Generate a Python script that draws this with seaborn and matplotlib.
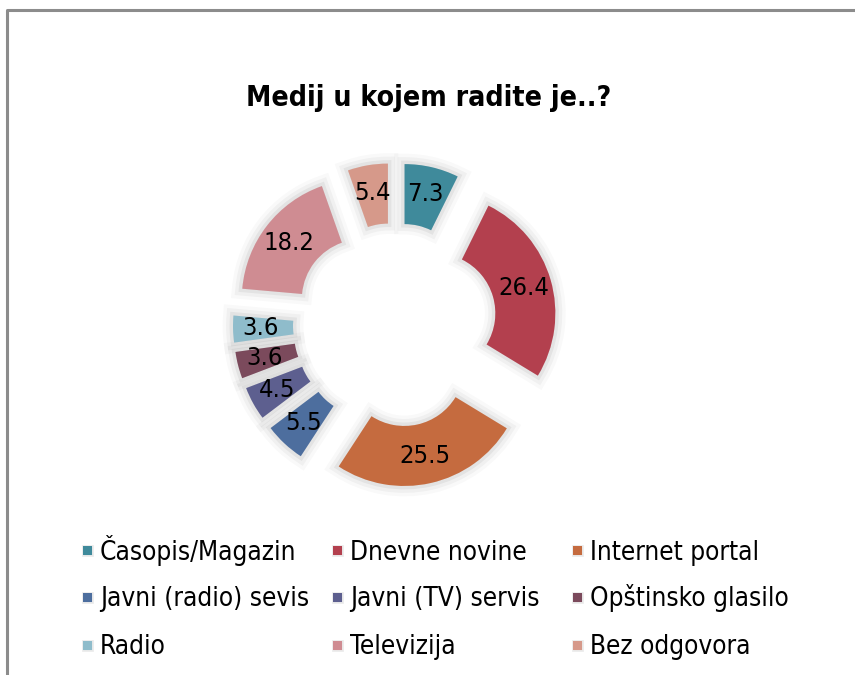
import numpy as np
import pandas as pd
import seaborn as sns
import matplotlib
matplotlib.use("Agg")
import matplotlib.pyplot as plt
import matplotlib.patches as mpatches
import matplotlib.patheffects as pe
from matplotlib.lines import Line2D

# ---- data ----
categories = ["Časopis/Magazin", "Dnevne novine", "Internet portal",
              "Javni (radio) sevis", "Javni (TV) servis", "Opštinsko glasilo",
              "Radio", "Televizija", "Bez odgovora"]
values = [7.3, 26.4, 25.5, 5.5, 4.5, 3.6, 3.6, 18.2, 5.4]
colors = ["#3f8a9b", "#b3404e", "#c56b3f", "#4d6e9e", "#5d5f8f",
          "#7b4a5c", "#8fbccb", "#cf8c92", "#d6998a"]
title = "Medij u kojem radite je..?"

sns.set_theme(style="white")
plt.rcParams["font.family"] = ["DejaVu Sans"]
FONT = dict(family="DejaVu Sans", stretch="condensed")

W, H = 855, 675
fig = plt.figure(figsize=(W / 100, H / 100), dpi=100)
ax = fig.add_axes([0, 0, 1, 1])

wedges, texts, autotexts = ax.pie(
    values, colors=colors, startangle=90, counterclock=False,
    explode=[0.35] * len(values), radius=1.0,
    autopct="%.1f", pctdistance=0.77,
    wedgeprops=dict(width=0.5, linewidth=0),
    textprops=dict(fontsize=18.3, color="black", **FONT),
)
glow = [pe.Stroke(linewidth=15, foreground="black", alpha=0.025),
        pe.Stroke(linewidth=10, foreground="black", alpha=0.035),
        pe.Stroke(linewidth=5, foreground="black", alpha=0.05),
        pe.Normal()]
for w in wedges:
    w.set_path_effects(glow)

# place centre at (395, 325) px, 120 px per unit
cx, cy, s = 395, 325, 120.0
ax.set_xlim(-cx / s, (W - cx) / s)
ax.set_ylim(-(H - cy) / s, cy / s)
ax.set_aspect("equal")
ax.axis("off")

fig.text(429 / W, 1 - 98 / H, title, ha="center", va="center",
         fontsize=20.3, fontweight="bold", color="black", **FONT)

# legend: 3 x 3 grid, row-major order as in the reference
col_x = [83, 333, 573]
row_y = [550, 597, 645]
key = 9
for i, (lab, colr) in enumerate(zip(categories, colors)):
    r, c = divmod(i, 3)
    x0, y0 = col_x[c], row_y[r]
    rect = mpatches.Rectangle((x0 / W, 1 - (y0 + key / 2) / H), key / W, key / H,
                              transform=fig.transFigure, facecolor=colr,
                              edgecolor="none")
    rect.set_path_effects([pe.Stroke(linewidth=2, foreground="black", alpha=0.08),
                           pe.Normal()])
    fig.add_artist(rect)
    fig.text((x0 + 17) / W, 1 - (y0 + 9.5) / H, lab, ha="left", va="baseline",
             fontsize=18.8, color="black", **FONT)

# outer frame (top and left edges visible)
fig.add_artist(Line2D([7 / W, 7 / W, 1.0], [0.0, 1 - 10 / H, 1 - 10 / H],
                      transform=fig.transFigure, color="#8c8c8c", lw=2.2))

fig.savefig("out.png", dpi=100)
